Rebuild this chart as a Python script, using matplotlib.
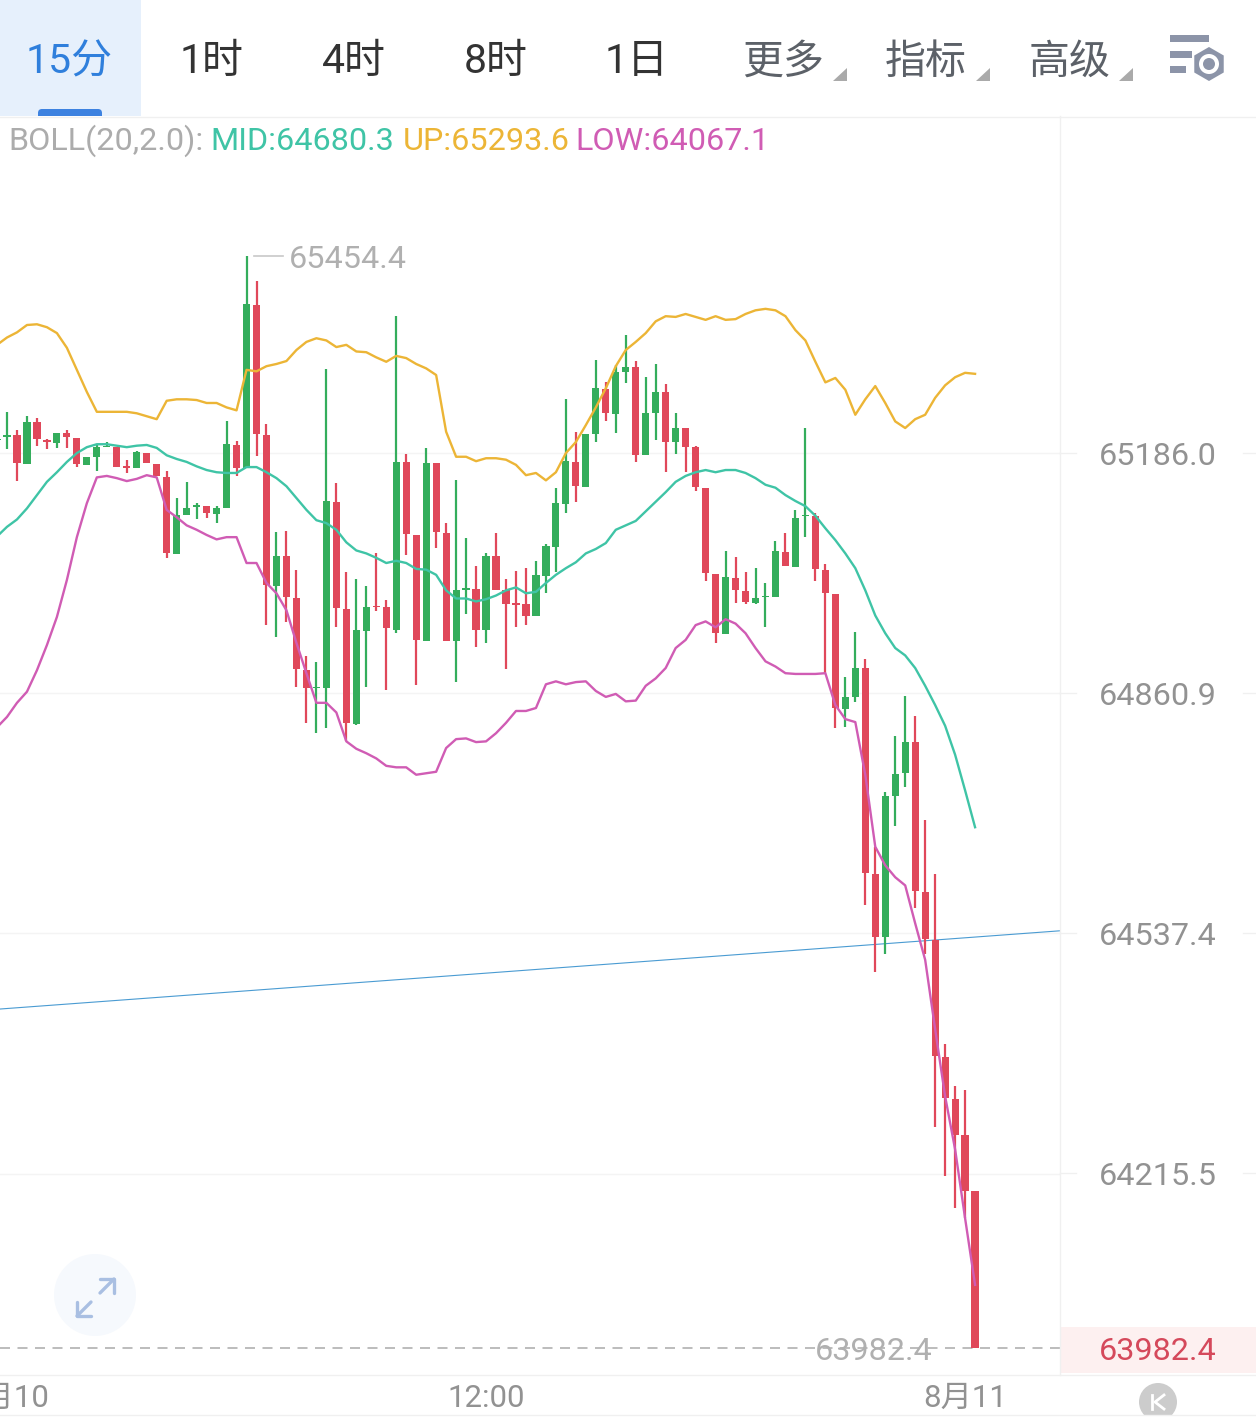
import numpy as np
import matplotlib
matplotlib.use("Agg")
import matplotlib.pyplot as plt
from matplotlib.patches import Rectangle, Circle, Polygon, FancyBboxPatch

FONT = ['Roboto', 'Noto Sans CJK SC', 'DejaVu Sans']
plt.rcParams['font.family'] = FONT

# 15-minute candles; the first entry sits just left of the visible window
opens = [65204,65208,65210,65171,65228,65204,65200,65213,65206,65170,65181,65194,65194,65168,65166,65186,65171,65153,65049,65102,65113,65114,65103,65111,65197,65166,65387,65210,65006,65046,64989,64892,64868,64868,65120,64975,64819,64945,64979,64977,64947,65174,65075,64931,65172,65078,64931,65000,65002,64946,65046,65000,64983,64981,64965,65019,65059,65117,65174,65140,65212,65273,65239,65296,65303,65183,65240,65269,65201,65220,65194,65139,65022,64941,65017,64999,64983,64991,64991,65052,65032,65101,65101,65028,64995,64840,64856,64895,64617,64533,64722,64753,64795,64593,64529,64372,64316,64267,64192]
closes = [65205,65210,65172,65228,65205,65201,65213,65208,65171,65181,65194,65196,65167,65166,65187,65172,65155,65050,65102,65111,65115,65105,65111,65198,65166,65388,65212,65007,65046,64991,64894,64868,64869,65121,64976,64821,64946,64977,64977,64949,65174,65076,64933,65172,65079,64931,65000,65003,64947,65046,65000,64981,64980,64965,65021,65060,65118,65175,65141,65212,65274,65240,65296,65303,65183,65240,65269,65201,65220,65194,65140,65023,64942,65018,65000,64984,64989,64992,65053,65033,65098,65102,65029,64996,64841,64856,64895,64619,64533,64722,64752,64795,64594,64530,64373,64317,64267,64192,63982.4]
highs = [65205,65242,65217,65236,65234,65205,65213,65217,65206,65181,65197,65201,65194,65177,65189,65186,65171,65162,65125,65147,65118,65114,65114,65229,65202,65454.4,65420,65225,65079,65080,65028,64911,64903,65300,65145,65025,65015,65006,65050,64987,65372,65185,65075,65193,65172,65091,65149,65071,65033,65050,65078,65015,65026,65030,65040,65063,65139,65259,65214,65212,65312,65282,65305,65347,65311,65289,65307,65280,65240,65220,65196,65139,65022,65053,65045,65025,65030,65010,65067,65078,65109,65220,65105,65036,64995,64883,64943,64907,64654,64728,64803,64857,64830,64690,64617,64389,64333,64327,64192]
lows = [65204,65191,65148,65171,65196,65191,65193,65193,65167,65170,65162,65194,65167,65159,65166,65172,65155,65044,65049,65102,65096,65098,65091,65111,65155,65166,65182,64953,64937,64957,64869,64821,64807,64814,64950,64796,64818,64869,64972,64865,64942,65048,64872,64931,65057,64931,64876,64968,64923,64929,65000,64894,64950,64953,64965,64996,65025,65105,65120,65140,65201,65229,65213,65281,65174,65183,65204,65160,65185,65160,65134,65012,64929,64941,64983,64981,64981,64950,64991,65033,65032,65072,65012,64888,64814,64815,64849,64576,64486,64510,64682,64734,64572,64510,64278,64212,64170,64156,63982.4]

boll_up = [65333,65343,65350,65360,65361,65357,65349,65329,65299,65269,65242,65242,65242,65242,65240,65236,65232,65257,65259,65259,65258,65254,65254,65248,65244,65299,65297,65304,65307,65311,65326,65337,65342,65339,65330,65333,65324,65323,65316,65310,65318,65315,65307,65301,65292,65215,65181,65181,65175,65179,65179,65177,65170,65156,65159,65149,65160,65186,65201,65224,65248,65274,65304,65326,65337,65349,65365,65372,65371,65375,65371,65367,65372,65367,65368,65375,65380,65382,65380,65372,65353,65339,65310,65282,65288,65272,65238,65259,65277,65254,65229,65220,65232,65238,65261,65278,65289,65295,65293.6]
boll_mid = [65073,65086,65096,65111,65129,65147,65160,65174,65186,65194,65198,65198,65196,65194,65196,65197,65193,65183,65178,65174,65168,65163,65160,65159,65159,65167,65167,65160,65152,65141,65125,65109,65095,65091,65082,65065,65054,65050,65044,65037,65040,65037,65029,65028,65021,65000,64989,64989,64985,64988,64993,65000,65004,64996,64998,65010,65021,65030,65038,65050,65056,65064,65082,65088,65094,65107,65120,65133,65147,65155,65160,65163,65160,65163,65163,65159,65152,65143,65139,65129,65121,65114,65101,65084,65068,65050,65030,65000,64966,64942,64922,64912,64895,64871,64845,64817,64778,64730,64680.3]
boll_low = [64815,64829,64848,64863,64892,64926,64964,65014,65072,65118,65153,65155,65152,65148,65151,65156,65153,65109,65099,65088,65082,65075,65069,65072,65072,65037,65037,65010,64996,64973,64929,64888,64848,64848,64835,64796,64786,64780,64773,64763,64761,64761,64751,64753,64755,64787,64799,64800,64795,64796,64807,64821,64837,64837,64841,64873,64877,64873,64876,64877,64864,64856,64860,64850,64851,64871,64881,64895,64922,64933,64953,64958,64950,64961,64955,64942,64922,64904,64897,64888,64887,64887,64887,64888,64845,64826,64822,64751,64654,64629,64613,64602,64551,64502,64409,64319,64248,64156,64067.1]

trend_x = [-0.7, 105.5]
trend_price = [64436, 64541]

price_ticks = [65186.0, 64860.9, 64537.4, 64215.5]
price_tick_labels = ['65186.0', '64860.9', '64537.4', '64215.5']
time_ticks = [0, 48, 96]
time_tick_labels = ['8月10', '12:00', '8月11']
tabs = ['15分', '1时', '4时', '8时', '1日', '更多', '指标', '高级']
last_price = 63982.4
high_price = 65454.4

W, H = 1256, 1420
RED, GREEN = '#e0485a', '#34ad5c'
TEAL, GOLD, PINK = '#3fc4a6', '#ecb536', '#d05cb4'
GREY = '#b0b0b0'
AX = '#929292'
NUM = 23.3

fig = plt.figure(figsize=(W / 100, H / 100), dpi=100, facecolor='white')

# chrome layer in pixel coordinates
ui = fig.add_axes([0, 0, 1, 1], zorder=3)
ui.set_xlim(0, W)
ui.set_ylim(H, 0)
ui.axis('off')
ui.patch.set_alpha(0)

# price chart
ax = fig.add_axes([0, (H - 1375) / H, 1060 / W, (1375 - 117) / H], zorder=2)
ax.patch.set_alpha(0)
ax.set_yscale('log')
ax.set_xlim(-0.7014, 105.51)
ax.set_ylim(63947.0, 65643.6)
for s in ax.spines.values():
    s.set_visible(False)

idx = np.arange(len(opens)) - 1
o, c, hi, lo = map(np.array, (opens, closes, highs, lows))
colors = [GREEN if b >= a else RED for a, b in zip(o, c)]
ax.vlines(idx, lo, hi, colors=colors, linewidth=1.6, zorder=3)
ax.bar(idx, np.abs(c - o), bottom=np.minimum(o, c), width=0.72, color=colors, linewidth=0, zorder=3)
ax.plot(idx, boll_up, color=GOLD, lw=1.7, zorder=4)
ax.plot(idx, boll_mid, color=TEAL, lw=1.7, zorder=4)
ax.plot(idx, boll_low, color=PINK, lw=1.7, zorder=4)
ax.plot(trend_x, trend_price, color='#4a9bd2', lw=0.8, zorder=2)
ax.axhline(last_price, color='#b0b0b0', lw=1.2, dashes=(6, 4.5), zorder=1)

ax.minorticks_off()
ax.yaxis.tick_right()
ax.set_yticks(price_ticks)
ax.set_yticklabels(price_tick_labels, fontsize=NUM, color=AX, ha='center')
ax.tick_params(axis='y', length=0, pad=70.5, which='both')
ax.tick_params(axis='y', which='minor', labelright=False)
ax.set_xticks(time_ticks)
ax.set_xticklabels(time_tick_labels, fontsize=22.5, color=AX)
ax.tick_params(axis='x', length=0, pad=6.5)
ax.grid(True, axis='y', color='#f4f4f4', lw=1, zorder=0)
ax.grid(False, axis='x')

ui.plot([254, 283], [256, 256], color='#c8c8c8', lw=1.2)
ui.text(289, 260, f'{high_price:.1f}', fontsize=NUM, color=GREY, va='center', ha='left')
ui.text(874, 1351, f'{last_price:.1f}', fontsize=NUM, color=GREY, va='center', ha='center')

# header
ui.add_patch(Rectangle((0, 0), 141, 116, color='#e6f0fc', lw=0, zorder=0))
ui.add_patch(FancyBboxPatch((38, 109), 64, 12, boxstyle='round,pad=0,rounding_size=4', color='#3d82e0', lw=0, zorder=1))
ui.add_patch(Rectangle((30, 116), 80, 10, color='white', lw=0, zorder=1.5))
tab_x = [69, 212, 354, 496, 637, 783, 926, 1070]
tab_col = ['#2f7fdc', '#333333', '#333333', '#333333', '#333333', '#5c6168', '#5c6168', '#5c6168']
for x, t, col in zip(tab_x, tabs, tab_col):
    ui.text(x, 62, t, fontsize=29.5, color=col, ha='center', va='center')
for x in (847, 990, 1133):
    ui.add_patch(Polygon([(x - 14, 81), (x, 81), (x, 68)], color='#aaaaaa', lw=0))
ICON = '#8c94a8'
ui.add_patch(Rectangle((1170, 35), 39, 7, color=ICON, lw=0))
ui.add_patch(Rectangle((1170, 51), 22, 7, color=ICON, lw=0))
ui.add_patch(Rectangle((1170, 66), 16, 7, color=ICON, lw=0))
ang = np.deg2rad(np.arange(6) * 60 + 90)
ui.add_patch(Polygon(np.c_[1209 + 17 * np.cos(ang), 64 + 17 * np.sin(ang)], color=ICON, lw=0))
ui.add_patch(Circle((1209, 64), 10, color='white', lw=0))
ui.add_patch(Circle((1209, 64), 6, color=ICON, lw=0))

# legend line
for x, t, col in zip((8, 210, 403, 575),
                     ('BOLL(20,2.0):', 'MID:64680.3', 'UP:65293.6', 'LOW:64067.1'),
                     ('#acacac', TEAL, GOLD, PINK)):
    ui.text(x, 141, t, fontsize=NUM, color=col, ha='left', va='center')

# frame lines
LINE = '#f0f0f0'
ui.plot([0, W], [116.5, 116.5], color=LINE, lw=1)
ui.plot([1060, 1060], [116, 1375], color=LINE, lw=1)
ui.plot([0, W], [1375, 1375], color=LINE, lw=1)
ui.plot([0, W], [1414.5, 1414.5], color=LINE, lw=1)
for y in (453, 693, 933, 1173):
    ui.plot([1060, 1076], [y, y], color=LINE, lw=1)
    ui.plot([1243, W], [y, y], color=LINE, lw=1)

# last price tag
ui.add_patch(Rectangle((1061, 1327), 195, 46, color='#fdf0f0', lw=0, zorder=0))
ui.text(1158, 1351, f'{last_price:.1f}', fontsize=NUM, color='#d5495b', ha='center', va='center')

# expand button
ui.add_patch(Circle((95, 1295), 41, color='#f6f9fd', lw=0, zorder=0))
ARW = '#a9bfe2'
ui.plot([100, 114], [1293, 1279], color=ARW, lw=2.4, solid_capstyle='round')
ui.plot([100, 114, 114], [1279, 1279, 1293], color=ARW, lw=2.4, solid_capstyle='round')
ui.plot([77, 91], [1316, 1302], color=ARW, lw=2.4, solid_capstyle='round')
ui.plot([77, 77, 91], [1302, 1316, 1316], color=ARW, lw=2.4, solid_capstyle='round')

# K button
ui.add_patch(Circle((1158, 1402), 19, color='#cccccc', lw=0))
ui.add_patch(Rectangle((1130, 1415), 60, 8, color='white', lw=0))
ui.plot([1151.5, 1151.5], [1395, 1409], color='white', lw=2)
ui.plot([1164, 1155, 1164], [1395, 1402, 1409], color='white', lw=2)

fig.savefig('out.png', dpi=100)
